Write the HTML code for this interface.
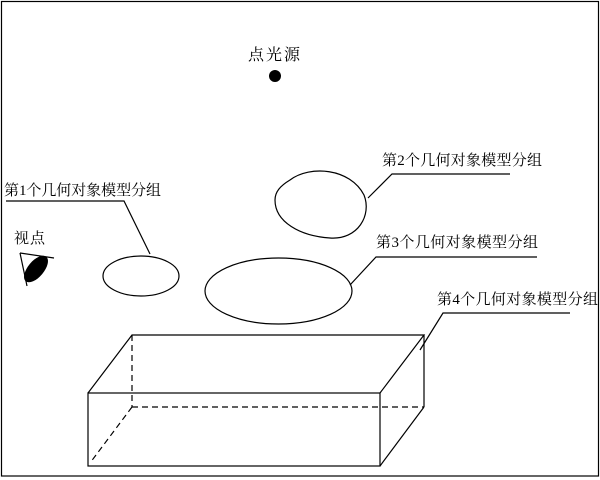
<!DOCTYPE html>
<html><head><meta charset="utf-8"><style>html,body{margin:0;padding:0;background:#fff}</style></head>
<body>
<svg width="600" height="480" xmlns="http://www.w3.org/2000/svg" style="display:block">
<g fill="none" stroke="#000" stroke-width="1.2">
<rect x="1.5" y="1.5" width="597" height="474.5"/>
<line x1="20" y1="253" x2="54" y2="258"/>
<line x1="20" y1="253" x2="27" y2="286"/>
<ellipse cx="141" cy="276" rx="38" ry="20"/>
<ellipse cx="278.5" cy="291" rx="73.5" ry="33"/>
<path d="M290 180 C310 165 350 168 364 195 C372 215 358 240 330 238 C300 236 275 222 275 200 C275 192 280 186 290 180 Z"/>
<polyline points="6,201 124,201 150,254"/>
<polyline points="510,174 392,174 368,198"/>
<polyline points="537,257 376,257 350,285"/>
<polyline points="570,313 443,313 420,350"/>
<rect x="88" y="393" width="292" height="73"/>
<polyline points="88,393 132,335 424,335 380,393"/>
<line x1="380" y1="466" x2="424" y2="407"/>
<line x1="424" y1="335" x2="424" y2="407"/>
<g stroke-dasharray="6,4">
<line x1="132" y1="335" x2="132" y2="407"/>
<line x1="132" y1="407" x2="424" y2="407"/>
<line x1="132" y1="407" x2="90" y2="463"/>
</g>
</g>
<ellipse cx="36" cy="269" rx="8" ry="16" transform="rotate(40 36 269)" fill="#000"/>
<circle cx="275" cy="76" r="6" fill="#000"/>
<g font-family="'Liberation Serif','Noto Serif CJK SC',serif" font-size="15" fill="#000">
<text x="248" y="60" font-size="16" textLength="52">点光源</text>
<text x="14" y="243" textLength="31">视点</text>
<text x="4" y="195" textLength="157">第1个几何对象模型分组</text>
<text x="382" y="165" textLength="160">第2个几何对象模型分组</text>
<text x="376" y="247" textLength="162">第3个几何对象模型分组</text>
<text x="437" y="304" textLength="161">第4个几何对象模型分组</text>
</g>
</svg>
</body></html>
